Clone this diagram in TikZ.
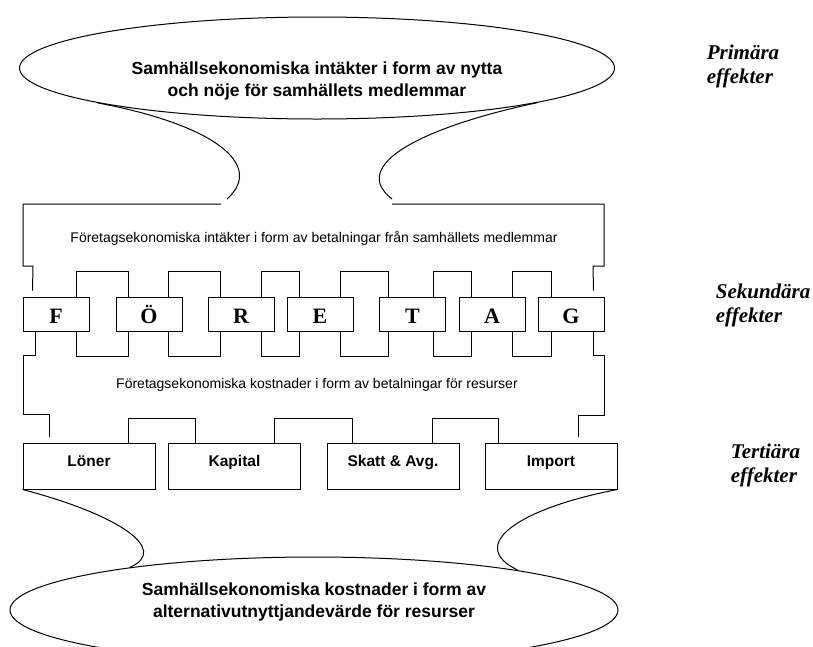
\documentclass[tikz,border=0pt]{standalone}
\usepackage{fontspec}
\setmainfont{Liberation Serif}
\setsansfont{Liberation Sans}
\usetikzlibrary{shapes.geometric}

\tikzset{
  bubble/.style={draw, ellipse, line width=1pt, inner sep=0pt},
  bubbletext/.style={align=center, font=\sffamily\bfseries\fontsize{17.5}{22}\selectfont},
  letterbox/.style={draw, line width=1pt, inner sep=0pt, minimum width=66pt, minimum height=34pt,
    text height=18pt, text depth=0pt, font=\bfseries\fontsize{22}{24}\selectfont},
  resbox/.style={draw, line width=1pt, inner sep=0pt, minimum width=132pt, minimum height=46pt,
    text height=13pt, text depth=13pt, font=\sffamily\bfseries\fontsize{15.5}{18}\selectfont},
  flowtext/.style={anchor=base, font=\sffamily\fontsize{14}{16}\selectfont},
  effect/.style={align=left, anchor=base west, font=\bfseries\itshape\fontsize{21}{24}\selectfont},
}

\begin{document}
\begin{tikzpicture}[x=1pt, y=-1pt, line width=1pt]
    \path[use as bounding box] (0,0) rectangle (813,646);
    \clip (0,0) rectangle (813,646);

    % primara effekter
    \node[bubble, minimum width=595pt, minimum height=102pt] (income) at (317,68) {};
    \node[bubbletext] (incometext) at (317,81) {Samhällsekonomiska intäkter i form av nytta\\och nöje för samhällets medlemmar};
    \draw (income.189) .. controls (215,125) and (265,165) .. (227,199);
    \draw (income.-9.5) .. controls (423,127) and (348,165) .. (392,199);

    % sekundara effekter
    \node[flowtext] (paytext) at (314,242) {Företagsekonomiska intäkter i form av betalningar från samhällets medlemmar};
    \node[letterbox] (f)  at (56,314)    {F};
    \node[letterbox] (oe) at (149,314)   {Ö};
    \node[letterbox] (r)  at (241,314)   {R};
    \node[letterbox] (e)  at (320,314)   {E};
    \node[letterbox] (t)  at (412.5,314) {T};
    \node[letterbox] (a)  at (492,314)   {A};
    \node[letterbox] (g)  at (571,314)   {G};
    \node[flowtext] (costtext) at (317,388) {Företagsekonomiska kostnader i form av betalningar för resurser};

    \foreach \a/\b/\l/\r in {f/oe/13/13, oe/r/14/13, r/e/13/13, e/t/13/9, t/a/13/13, a/g/13/14}
      \draw ([xshift=-\l]\a.north east) -- ++(0,-25) -| ([xshift=\r]\b.north west)
            ([xshift=-\l]\a.south east) -- ++(0,25) -| ([xshift=\r]\b.south west);

    % ramen runt foretaget
    \draw (221,204) -- (23,204) |- (33,266) -- ([xshift=10,yshift=6]f.north west);
    \draw (392,204) -- (604,204) |- (593,266) -- ([xshift=-11,yshift=6]g.north east);
    \draw ([xshift=13]f.south west) |- (23,355) |- (49,414) -- (49,437);
    \draw ([xshift=-11]g.south east) |- (604,355) |- (578,415) -- (578,437);

    % tertiara effekter
    \node[resbox] (loner)   at (89,466)    {Löner};
    \node[resbox] (kapital) at (234.5,466) {Kapital};
    \node[resbox] (skatt)   at (393,466)   {Skatt \& Avg.};
    \node[resbox] (import)  at (551,466)   {Import};

    \foreach \a/\b/\l/\r in {loner/kapital/27/27, kapital/skatt/27/26, skatt/import/27/14}
      \draw ([xshift=-\l]\a.north east) -- ++(0,-24) -| ([xshift=\r]\b.north west);

    \node[bubble, minimum width=608pt, minimum height=106pt] (cost) at (314,610) {};
    \node[bubbletext] (costbubbletext) at (314,602) {Samhällsekonomiska kostnader i form av\\alternativutnyttjandevärde för resurser};
    \draw (loner.south west) .. controls (120,515) and (170,550) .. (cost.167.3);
    \draw (import.south east) .. controls (520,508) and (465,545) .. (cost.11.5);

    % nivaer
    \node[effect] (primary)   at (703,83)  {Primära\\effekter};
    \node[effect] (secondary) at (712,322) {Sekundära\\effekter};
    \node[effect] (tertiary)  at (727,482) {Tertiära\\effekter};
\end{tikzpicture}
\end{document}
